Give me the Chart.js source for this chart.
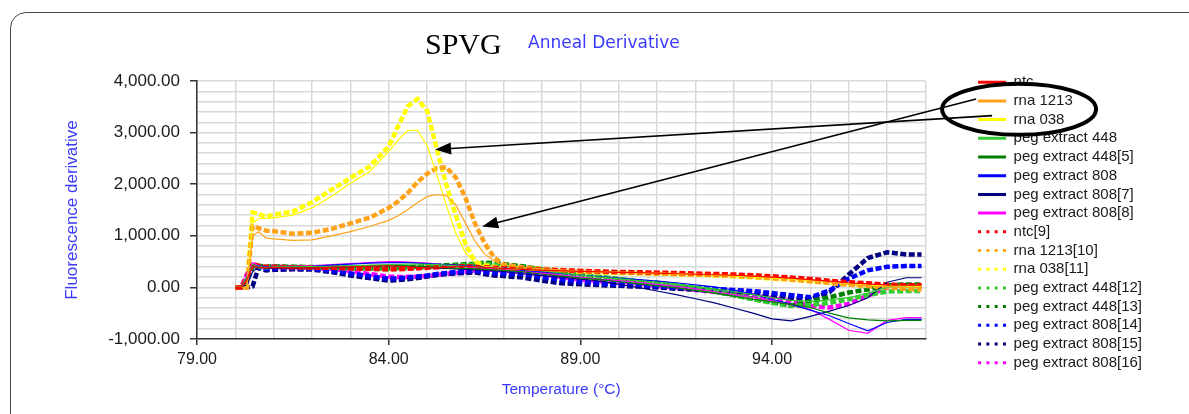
<!DOCTYPE html>
<html lang="en">
<head>
    <meta charset="UTF-8">
    <script src="https://cdn.jsdelivr.net/npm/chart.js"></script>
    <title>SPVG Anneal Derivative</title>
    <style>
        body { margin: 0; background: #fff; overflow: hidden; }
        #wrap { position: relative; width: 1189px; height: 414px; }
        #annealChart { position: absolute; left: 0; top: 0; }
        .frame {
            position: absolute; left: 10px; top: 12px; width: 1200px; height: 420px;
            border: 1.5px solid #4a4a4a; border-radius: 16px; pointer-events: none;
        }
    </style>
</head>
<body>
<div id="wrap">
    <canvas id="annealChart" width="1189" height="414"></canvas>
    <div class="frame"></div>
</div>
<script>
// temperature (°C) at which each series is sampled
const temps = [80.0, 80.15, 80.3, 80.45, 80.6, 80.8, 81.0, 81.5, 82.0, 82.5, 83.0, 83.5, 84.0, 84.25, 84.5, 84.75,
    85.0, 85.25, 85.5, 85.75, 86.0, 86.25, 86.5, 86.75, 87.0, 87.5, 88.0, 88.5, 89.0, 89.5, 90.0, 90.5, 91.0, 91.5,
    92.0, 92.5, 93.0, 93.5, 94.0, 94.5, 95.0, 95.5, 96.0, 96.5, 97.0, 97.5, 97.9];

// fluorescence derivative per series
const ntc = [0, 0, 150, 420, 390, 380, 390, 380, 380, 390, 400, 410, 420, 410, 400, 390, 380, 380, 390, 400, 410, 400, 390, 380, 370,
    350, 330, 320, 310, 300, 290, 285, 275, 265, 255, 245, 235, 220, 200, 180, 150, 120, 90, 70, 50, 45, 45];
const rna1213 = [0, 0, 0, 1000, 1080, 960, 940, 910, 920, 1000, 1080, 1180, 1300, 1390, 1510, 1640, 1760, 1800, 1780, 1600, 1250, 900, 650, 510, 430,
    390, 360, 340, 320, 310, 300, 290, 280, 270, 260, 250, 235, 220, 200, 175, 140, 100, 60, 30, 10, 0, -10];
const rna038 = [0, 0, 0, 1250, 1330, 1340, 1348, 1400, 1540, 1760, 2020, 2240, 2630, 2860, 3040, 3050, 2750, 2200, 1600, 1050, 680, 480, 410, 390, 370,
    350, 330, 315, 305, 295, 285, 275, 265, 255, 245, 235, 220, 200, 180, 160, 130, 100, 70, 45, 30, 25, 25];
const peg448 = [0, 0, 200, 450, 400, 390, 400, 400, 405, 410, 420, 430, 440, 445, 450, 450, 445, 440, 430, 420, 410, 400, 390, 380, 370,
    350, 320, 280, 240, 200, 170, 130, 100, 60, 20, -30, -80, -140, -200, -250, -270, -240, -200, -110, 0, 25, 25];
const peg448_5 = [0, 0, 180, 420, 400, 380, 390, 390, 395, 400, 410, 420, 430, 430, 420, 410, 400, 390, 380, 370, 370, 360, 350, 340, 330,
    300, 260, 220, 180, 150, 110, 70, 30, -10, -60, -110, -170, -230, -280, -330, -390, -500, -590, -630, -650, -640, -640];
const peg808 = [0, 0, 150, 440, 420, 400, 400, 400, 410, 430, 450, 470, 480, 480, 480, 470, 460, 450, 440, 430, 420, 410, 400, 390, 380,
    330, 300, 270, 240, 210, 180, 150, 120, 90, 50, 10, -50, -130, -230, -330, -440, -550, -700, -840, -680, -619, -619];
const peg808_7 = [0, 0, 50, 300, 400, 380, 380, 380, 380, 390, 400, 410, 420, 420, 410, 400, 390, 380, 370, 360, 350, 340, 330, 320, 310,
    260, 230, 200, 160, 120, 60, 0, -70, -140, -220, -300, -400, -500, -610, -650, -560, -460, -350, -200, 100, 187, 187];
const peg808_8 = [0, 0, 260, 480, 420, 400, 410, 410, 420, 440, 460, 480, 500, 500, 490, 480, 470, 450, 430, 410, 400, 390, 380, 370, 360,
    320, 280, 240, 200, 160, 130, 100, 60, 20, -30, -80, -140, -200, -260, -340, -430, -620, -830, -890, -640, -587, -587];
const ntc9 = [0, 0, 200, 450, 420, 400, 400, 390, 385, 380, 370, 360, 350, 350, 360, 370, 380, 390, 400, 410, 410, 400, 390, 380, 370,
    360, 340, 330, 320, 310, 300, 295, 285, 280, 270, 260, 250, 235, 215, 190, 165, 130, 100, 80, 55, 40, 40];
const rna1213_10 = [0, 0, 0, 1190, 1150, 1100, 1090, 1040, 1060, 1130, 1240, 1350, 1540, 1670, 1830, 2040, 2200, 2310, 2330, 2130, 1740, 1240, 860, 580, 440,
    390, 360, 335, 315, 300, 290, 280, 270, 260, 250, 240, 225, 205, 180, 150, 120, 85, 55, 25, 0, -30, -40];
const rna038_11 = [0, 0, 0, 1450, 1430, 1360, 1410, 1470, 1650, 1890, 2120, 2340, 2730, 3130, 3510, 3650, 3430, 2700, 2000, 1400, 850, 500, 430, 400, 380,
    350, 330, 310, 300, 290, 280, 275, 265, 255, 245, 230, 215, 195, 170, 150, 125, 95, 60, 35, 20, 20, 20];
const peg448_12 = [0, 0, 200, 430, 410, 390, 400, 395, 390, 380, 370, 360, 350, 360, 370, 380, 390, 400, 410, 420, 430, 440, 450, 440, 420,
    390, 340, 290, 240, 200, 160, 120, 80, 40, -20, -80, -150, -230, -300, -360, -340, -300, -230, -150, -80, -71, -71];
const peg448_13 = [0, 0, 150, 400, 420, 400, 410, 400, 395, 390, 380, 370, 370, 380, 390, 400, 410, 420, 430, 440, 450, 460, 480, 470, 450,
    410, 350, 300, 240, 200, 160, 120, 90, 40, -20, -80, -150, -220, -290, -350, -270, -190, -100, -40, 40, 58, 58];
const peg808_14 = [0, 0, 100, 420, 400, 360, 370, 370, 360, 330, 270, 220, 170, 175, 190, 210, 230, 260, 280, 300, 310, 320, 300, 280, 270,
    260, 200, 150, 110, 80, 60, 40, 20, 0, -10, -30, -50, -70, -110, -150, -190, -60, 170, 330, 400, 413, 413];
const peg808_15 = [0, 0, 0, 20, 380, 330, 340, 350, 345, 300, 230, 180, 130, 140, 160, 180, 210, 240, 260, 270, 280, 290, 260, 230, 220,
    190, 130, 80, 60, 45, 30, 15, 0, -25, -45, -65, -85, -105, -150, -200, -230, -90, 250, 570, 680, 640, 640];
const peg808_16 = [0, 0, 250, 470, 400, 390, 400, 385, 375, 360, 320, 260, 210, 200, 205, 210, 220, 240, 260, 280, 300, 320, 345, 340, 320,
    310, 260, 200, 150, 120, 120, 80, 25, 0, -50, -90, -120, -150, -210, -270, -360, -390, -320, -160, 0, 13, 13];

const seriesNames = ['ntc', 'rna 1213', 'rna 038', 'peg extract 448', 'peg extract 448[5]', 'peg extract 808',
    'peg extract 808[7]', 'peg extract 808[8]', 'ntc[9]', 'rna 1213[10]', 'rna 038[11]', 'peg extract 448[12]',
    'peg extract 448[13]', 'peg extract 808[14]', 'peg extract 808[15]', 'peg extract 808[16]'];
const seriesValues = [ntc, rna1213, rna038, peg448, peg448_5, peg808, peg808_7, peg808_8,
    ntc9, rna1213_10, rna038_11, peg448_12, peg448_13, peg808_14, peg808_15, peg808_16];
const palette = ['#ff0000', '#ffa31a', '#ffff00', '#33cc33', '#008000', '#0000ff', '#000080', '#ff00ff'];

// ticks on the axes
const yMin = -1000, yMax = 4000, yMinor = 200, yMajor = 1000;
const xMin = 79, xMax = 98, xMinor = 1, xMajor = 5;

const datasets = seriesNames.map((name, i) => {
    const dotted = i >= 8;
    return {
        label: name,
        data: temps.map((t, j) => ({ x: t, y: seriesValues[i][j] })),
        borderColor: palette[i % 8],
        backgroundColor: palette[i % 8],
        borderWidth: dotted ? 4.5 : 1.2,
        borderDash: dotted ? [6, 2.5] : [],
        pointRadius: 0,
        fill: false,
        tension: 0
    };
});

// empty layout boxes: one keeps the legend away from the plot, one pushes the plot down
function spacer(position, size) {
    return {
        position: position, weight: 500, fullSize: false, options: {},
        width: 0, height: 0, left: 0, top: 0, right: 0, bottom: 0,
        update(maxW, maxH) {
            if (position === 'top') { this.width = maxW; this.height = size; }
            else { this.width = size; this.height = maxH; }
        },
        getPadding() { return { left: 0, right: 0, top: 0, bottom: 0 }; },
        isHorizontal() { return position === 'top'; },
        draw() {}
    };
}
const spacers = {
    id: 'spacers',
    beforeInit(chart) {
        Chart.layouts.addBox(chart, spacer('right', 49));
        Chart.layouts.addBox(chart, spacer('top', 10));
    }
};

// headings, the ellipse and the arrows
const extras = {
    id: 'extras',
    afterDraw(chart) {
        const c = chart.ctx;
        c.save();
        c.fillStyle = '#000';
        c.textBaseline = 'alphabetic';
        c.font = '30px "Liberation Serif"';
        c.fillText('SPVG', 425, 54);
        c.fillStyle = '#3a3aff';
        c.font = '17px "DejaVu Sans"';
        c.fillText('Anneal Derivative', 528, 48);

        const boxes = chart.legend.legendHitBoxes;
        const b1 = boxes[1], b2 = boxes[2];
        const y1 = b1.top + b1.height / 2, y2 = b2.top + b2.height / 2;
        const xs = chart.scales.x, ys = chart.scales.y;

        c.strokeStyle = '#000';
        c.lineWidth = 4;
        c.beginPath();
        c.ellipse(b1.left + 41, (y1 + y2) / 2 - 1, 77, 25.5, 0, 0, Math.PI * 2);
        c.stroke();

        const arrow = (x0, y0, x1, y1) => {
            const a = Math.atan2(y1 - y0, x1 - x0);
            c.lineWidth = 1.6;
            c.beginPath();
            c.moveTo(x0, y0);
            c.lineTo(x1 - 12 * Math.cos(a), y1 - 12 * Math.sin(a));
            c.stroke();
            c.beginPath();
            c.moveTo(x1, y1);
            c.lineTo(x1 - 16 * Math.cos(a) + 6 * Math.sin(a), y1 - 16 * Math.sin(a) - 6 * Math.cos(a));
            c.lineTo(x1 - 16 * Math.cos(a) - 6 * Math.sin(a), y1 - 16 * Math.sin(a) + 6 * Math.cos(a));
            c.closePath();
            c.fillStyle = '#000';
            c.fill();
        };
        arrow(b1.left - 2, y1 - 2, xs.getPixelForValue(86.44), ys.getPixelForValue(1180));
        arrow(b2.left + 14, y2 - 4, xs.getPixelForValue(85.21), ys.getPixelForValue(2673));
        c.restore();
    }
};

const tickFont = { family: '"Liberation Sans", Arial, sans-serif' };

new Chart(document.getElementById('annealChart'), {
    type: 'line',
    data: { datasets: datasets },
    plugins: [spacers, extras],
    options: {
        responsive: false,
        animation: false,
        devicePixelRatio: 1,
        layout: { padding: { left: 50, top: 71, right: 37, bottom: 10 } },
        scales: {
            x: {
                type: 'linear',
                min: xMin,
                max: xMax,
                afterFit: s => { s.height = 65; },
                border: { color: '#333', width: 1.5 },
                grid: {
                    color: '#d9d9d9',
                    lineWidth: 1.5,
                    tickLength: 6,
                    tickColor: ctx => ((ctx.tick.value - xMin) % xMajor === 0 ? '#333' : 'rgba(0,0,0,0)')
                },
                ticks: {
                    stepSize: xMinor,
                    autoSkip: false,
                    maxRotation: 0,
                    padding: 5,
                    color: '#1a1a1a',
                    font: { ...tickFont, size: 16 },
                    callback: v => ((v - xMin) % xMajor === 0 ? v.toFixed(2) : '')
                },
                title: {
                    display: true,
                    text: 'Temperature (°C)',
                    color: '#3a3aff',
                    padding: { top: 4, bottom: 5 },
                    font: { ...tickFont, size: 15.5 }
                }
            },
            y: {
                min: yMin,
                max: yMax,
                afterFit: s => { s.width = 147; },
                border: { color: '#333', width: 1.5 },
                grid: {
                    color: '#d9d9d9',
                    lineWidth: 1.5,
                    tickLength: 7,
                    tickColor: ctx => (Math.abs(ctx.tick.value % yMajor) < 1e-6 ? '#333' : 'rgba(0,0,0,0)')
                },
                ticks: {
                    stepSize: yMinor,
                    autoSkip: false,
                    padding: 10,
                    color: '#1a1a1a',
                    font: { ...tickFont, size: 17 },
                    callback: v => (Math.abs(v % yMajor) < 1e-6
                        ? v.toLocaleString('en-US', { minimumFractionDigits: 2, maximumFractionDigits: 2 }) : '')
                },
                title: {
                    display: true,
                    text: 'Fluorescence derivative',
                    color: '#3a3aff',
                    padding: { top: 12, bottom: 4 },
                    font: { ...tickFont, size: 17 }
                }
            }
        },
        plugins: {
            title: { display: false },
            tooltip: { enabled: false },
            legend: {
                position: 'right',
                align: 'start',
                labels: {
                    usePointStyle: true,
                    pointStyle: 'line',
                    pointStyleWidth: 28,
                    padding: 3.7,
                    color: '#1a1a1a',
                    font: { ...tickFont, size: 15 },
                    generateLabels: chart => {
                        const items = Chart.defaults.plugins.legend.labels.generateLabels(chart);
                        items.forEach(item => {
                            const dotted = item.datasetIndex >= 8;
                            item.lineWidth = 3;
                            item.lineDash = dotted ? [3, 5.3] : [];
                            item.lineCap = 'butt';
                            item.pointStyle = 'line';
                        });
                        return items;
                    }
                }
            }
        }
    }
});
</script>
</body>
</html>
